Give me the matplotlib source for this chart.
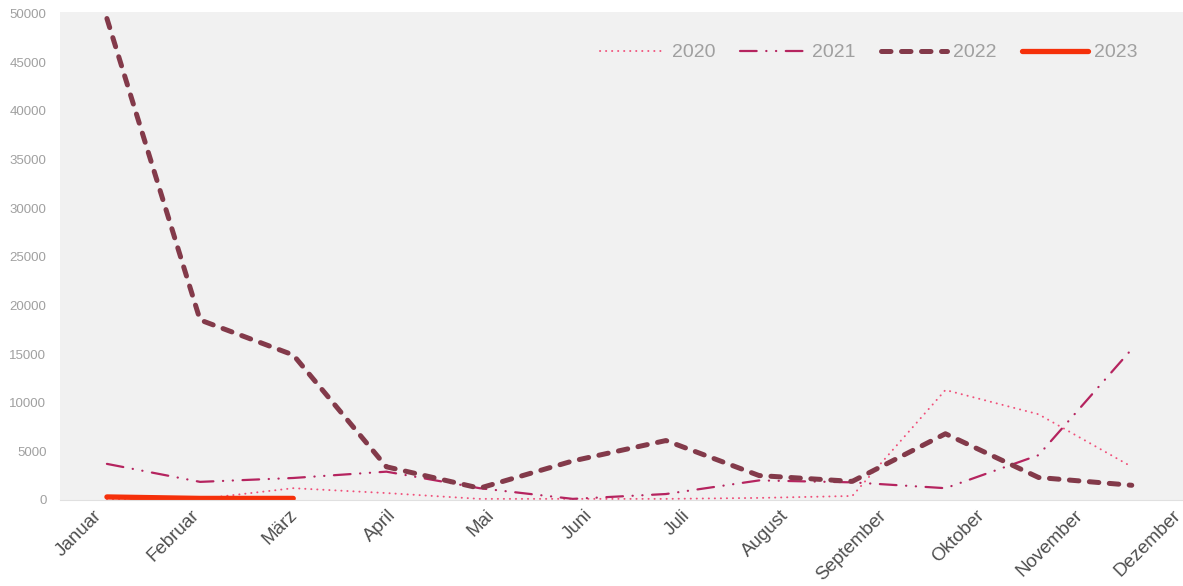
import matplotlib.pyplot as plt

plt.rcParams['font.family'] = ['Liberation Sans', 'DejaVu Sans']

months = ['Januar', 'Februar', 'März', 'April', 'Mai', 'Juni', 'Juli',
          'August', 'September', 'Oktober', 'November', 'Dezember']

y2020 = [0, 100, 1200, 700, 100, 100, 100, 200, 400, 11300, 8800, 3400]
y2021 = [3700, 1850, 2250, 2900, 1200, 100, 600, 2000, 1800, 1200, 4600, 15500]
y2022 = [49500, 18500, 14900, 3400, 1200, 4000, 6100, 2500, 1900, 6800, 2300, 1500]
y2023 = [300, 150, 150]

yticks = list(range(0, 50001, 5000))

fig = plt.figure(figsize=(11.83, 5.86), dpi=100)
ax = fig.add_axes([0.051, 0.147, 0.949, 0.833])
ax.set_facecolor('#f1f1f1')

x = list(range(len(months)))

# dotted / dash-dot-dot / dashed / solid
ax.plot(x, y2020, color='#f0507a', lw=1.4, linestyle=(0, (0.1, 3.0)),
        dash_capstyle='round', label='2020')
ax.plot(x, y2021, color='#b5245f', lw=1.6,
        linestyle=(0, (7.5, 4.3, 0.1, 4.3, 0.1, 4.3)), dash_capstyle='round', label='2021')
ax.plot(x, y2022, color='#833a4a', lw=3.6,
        linestyle=(0, (1.9, 2.1)), dash_capstyle='round', label='2022')
ax.plot(x[:len(y2023)], y2023, color='#f5300a', lw=3.8,
        solid_capstyle='round', label='2023')

ax.set_xlim(-0.5, 11.55)
ax.set_ylim(0, 50200)
ax.set_yticks(yticks)
ax.set_yticklabels([str(v) for v in yticks], fontsize=9.5, color='#a0a0a0')

# month labels sit on a slightly wider grid than the data points
ax.set_xticks([i * 1.053 - 0.15 for i in x])
ax.set_xticklabels(months, rotation=45, ha='right', rotation_mode='anchor',
                   fontsize=13.5, color='#4f4f4f')
ax.tick_params(axis='both', length=0)
ax.tick_params(axis='y', pad=10)
ax.tick_params(axis='x', pad=5)

for side in ['top', 'right', 'left']:
    ax.spines[side].set_visible(False)
ax.spines['bottom'].set_color('#e0e0e0')
ax.spines['bottom'].set_linewidth(0.8)

leg = ax.legend(loc='upper right', ncol=4, frameon=False, fontsize=14,
                handlelength=3.4, handletextpad=0.3, columnspacing=1.3,
                borderaxespad=0, bbox_to_anchor=(1145 / 1183, 1 - 36 / 586),
                bbox_transform=fig.transFigure)
for t in leg.get_texts():
    t.set_color('#a0a0a0')

fig.savefig('out.png', dpi=100)
